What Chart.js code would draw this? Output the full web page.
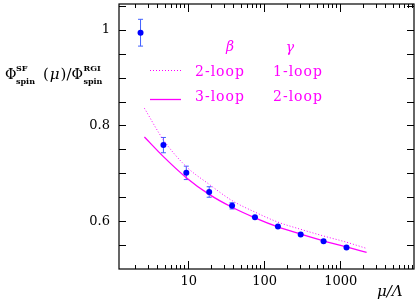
<!DOCTYPE html>
<html>
<head>
<meta charset="utf-8">
<script src="https://cdn.jsdelivr.net/npm/chart.js@4.4.1/dist/chart.umd.min.js"></script>
<style>
html, body { margin: 0; padding: 0; background: #fff; }
#wrap { width: 418px; height: 300px; }
</style>
</head>
<body>
<div id="wrap"><canvas id="chart1"></canvas></div>
<script>
// lattice points with errors
var muLat = [2.4, 4.8, 9.6, 19.2, 38.4, 76.8, 154, 307, 614, 1229];
var phiLat = [0.994, 0.759, 0.701, 0.661, 0.632, 0.608, 0.589, 0.572, 0.558, 0.545];
var phiErr = [0.028, 0.016, 0.014, 0.011, 0.0065, 0.003, 0.002, 0.002, 0.002, 0.002];

// perturbative curves
var muPt = [2.7, 4.8, 9.6, 19.2, 38.4, 76.8, 154, 307, 614, 1229, 2260];
var phi3loop = [0.776, 0.735, 0.691, 0.656, 0.629, 0.607, 0.588, 0.573, 0.559, 0.546, 0.535];
var phi2loop = [0.836, 0.770, 0.714, 0.677, 0.643, 0.619, 0.598, 0.583, 0.569, 0.556, 0.543];

var xMajor = [10, 100, 1000];
var yMajor = [0.6, 0.8, 1];

var magenta = '#ff00ff';
var blue = '#0000ff';

function pairs(xs, ys) {
    var out = [];
    for (var i = 0; i < xs.length; i++)
        out.push({ x: xs[i], y: ys[i] });
    return out;
}

var errorBars = {
    id: 'errorBars',
    beforeDatasetsDraw: function (chart) {
        var ctx = chart.ctx;
        var xs = chart.scales.x, ys = chart.scales.y;
        ctx.save();
        ctx.strokeStyle = '#4060ff';
        ctx.lineWidth = 1;
        for (var i = 0; i < muLat.length; i++) {
            var px = xs.getPixelForValue(muLat[i]);
            var top = ys.getPixelForValue(phiLat[i] + phiErr[i]);
            var bot = ys.getPixelForValue(phiLat[i] - phiErr[i]);
            if (bot - top < 4) continue;
            ctx.beginPath();
            ctx.moveTo(px, top); ctx.lineTo(px, bot);
            ctx.moveTo(px - 2.5, top); ctx.lineTo(px + 2.5, top);
            ctx.moveTo(px - 2.5, bot); ctx.lineTo(px + 2.5, bot);
            ctx.stroke();
        }
        ctx.restore();
    }
};

var frame = {
    id: 'frame',
    afterDraw: function (chart) {
        var ctx = chart.ctx;
        var a = chart.chartArea;
        var xs = chart.scales.x, ys = chart.scales.y;
        ctx.save();
        ctx.strokeStyle = '#000';
        ctx.lineWidth = 1.2;
        ctx.strokeRect(a.left, a.top, a.right - a.left, a.bottom - a.top);

        ctx.lineWidth = 1;
        ctx.beginPath();
        // log ticks on bottom and top
        for (var dec = 1; dec <= 1000; dec *= 10) {
            for (var m = 1; m <= 9; m++) {
                var v = dec * m;
                if (v < xs.min || v > xs.max) continue;
                var px = Math.round(xs.getPixelForValue(v)) + 0.5;
                var len = (m == 1) ? 8 : 4;
                ctx.moveTo(px, a.bottom); ctx.lineTo(px, a.bottom - len);
                ctx.moveTo(px, a.top); ctx.lineTo(px, a.top + len);
            }
        }
        // y ticks every 0.05
        for (var k = 11; k <= 21; k++) {
            var py = Math.round(ys.getPixelForValue(k * 0.05)) + 0.5;
            ctx.moveTo(a.left, py); ctx.lineTo(a.left + 7, py);
            ctx.moveTo(a.right, py); ctx.lineTo(a.right - 7, py);
        }
        ctx.stroke();

        ctx.fillStyle = '#000';
        ctx.font = "13px 'DejaVu Serif'";
        ctx.textAlign = 'center';
        ctx.textBaseline = 'middle';
        for (var i = 0; i < xMajor.length; i++)
            ctx.fillText(String(xMajor[i]), xs.getPixelForValue(xMajor[i]) + 1, a.bottom + 13);
        ctx.textAlign = 'right';
        for (var j = 0; j < yMajor.length; j++)
            ctx.fillText(String(yMajor[j]), a.left - 9, ys.getPixelForValue(yMajor[j]));

        // x title
        ctx.textAlign = 'left';
        ctx.textBaseline = 'alphabetic';
        ctx.font = "italic 15px 'DejaVu Serif'";
        ctx.fillText('\u03bc/\u039b', 377, 296);

        // y title
        var base = 79;
        ctx.font = "14px 'DejaVu Serif'";
        ctx.fillText('\u03a6', 5, base);
        ctx.font = "bold 8px 'DejaVu Serif'";
        ctx.fillText('SF', 16, base - 8);
        ctx.fillText('spin', 16, base + 5);
        var x = 43;
        ctx.font = "15px 'DejaVu Serif'";
        ctx.fillText('(', x, base); x += ctx.measureText('(').width + 1;
        ctx.font = "italic 15px 'DejaVu Serif'";
        ctx.fillText('\u03bc', x, base); x += ctx.measureText('\u03bc').width + 1;
        ctx.font = "15px 'DejaVu Serif'";
        ctx.fillText(')/', x, base); x += ctx.measureText(')/').width;
        ctx.font = "14px 'DejaVu Serif'";
        ctx.fillText('\u03a6', x, base); x += ctx.measureText('\u03a6').width + 0.5;
        ctx.font = "bold 8px 'DejaVu Serif'";
        ctx.fillText('RGI', x, base - 8);
        ctx.fillText('spin', x, base + 5);

        // legend
        ctx.strokeStyle = magenta;
        ctx.fillStyle = magenta;
        ctx.lineWidth = 1;
        ctx.setLineDash([1, 2]);
        ctx.beginPath(); ctx.moveTo(150, 70.5); ctx.lineTo(181, 70.5); ctx.stroke();
        ctx.setLineDash([]);
        ctx.lineWidth = 1.3;
        ctx.beginPath(); ctx.moveTo(150, 99.5); ctx.lineTo(181, 99.5); ctx.stroke();

        ctx.textBaseline = 'middle';
        ctx.textAlign = 'center';
        ctx.font = "italic 14px 'DejaVu Serif'";
        ctx.fillText('\u03b2', 230, 47);
        ctx.fillText('\u03b3', 290, 48);
        ctx.textAlign = 'left';
        ctx.font = "14px 'DejaVu Serif'";
        ctx.letterSpacing = '1px';
        ctx.fillText('2-loop', 195, 72);
        ctx.fillText('1-loop', 273, 72);
        ctx.fillText('3-loop', 195, 97);
        ctx.fillText('2-loop', 273, 97);
        ctx.restore();
    }
};

var config = {
    type: 'scatter',
    plugins: [errorBars, frame],
    data: {
        datasets: [{
            type: 'line',
            data: pairs(muPt, phi3loop),
            borderColor: magenta,
            borderWidth: 1.3,
            pointRadius: 0,
            cubicInterpolationMode: 'monotone',
            order: 2
        }, {
            type: 'line',
            data: pairs(muPt, phi2loop),
            borderColor: magenta,
            borderWidth: 1,
            borderDash: [1, 2],
            pointRadius: 0,
            cubicInterpolationMode: 'monotone',
            order: 3
        }, {
            data: pairs(muLat, phiLat),
            backgroundColor: blue,
            borderColor: blue,
            borderWidth: 0,
            pointRadius: 3,
            order: 1
        }]
    },
    options: {
        responsive: true,
        maintainAspectRatio: false,
        animation: false,
        layout: { padding: { left: 119, right: 4, top: 3, bottom: 31 } },
        plugins: { legend: { display: false }, tooltip: { enabled: false } },
        scales: {
            x: { type: 'logarithmic', min: 1.25, max: 9500, display: false },
            y: { type: 'linear', min: 0.5, max: 1.054, display: false }
        }
    }
};

var ctx = document.getElementById('chart1').getContext('2d');
var chart1 = new Chart(ctx, config);
</script>
</body>
</html>
